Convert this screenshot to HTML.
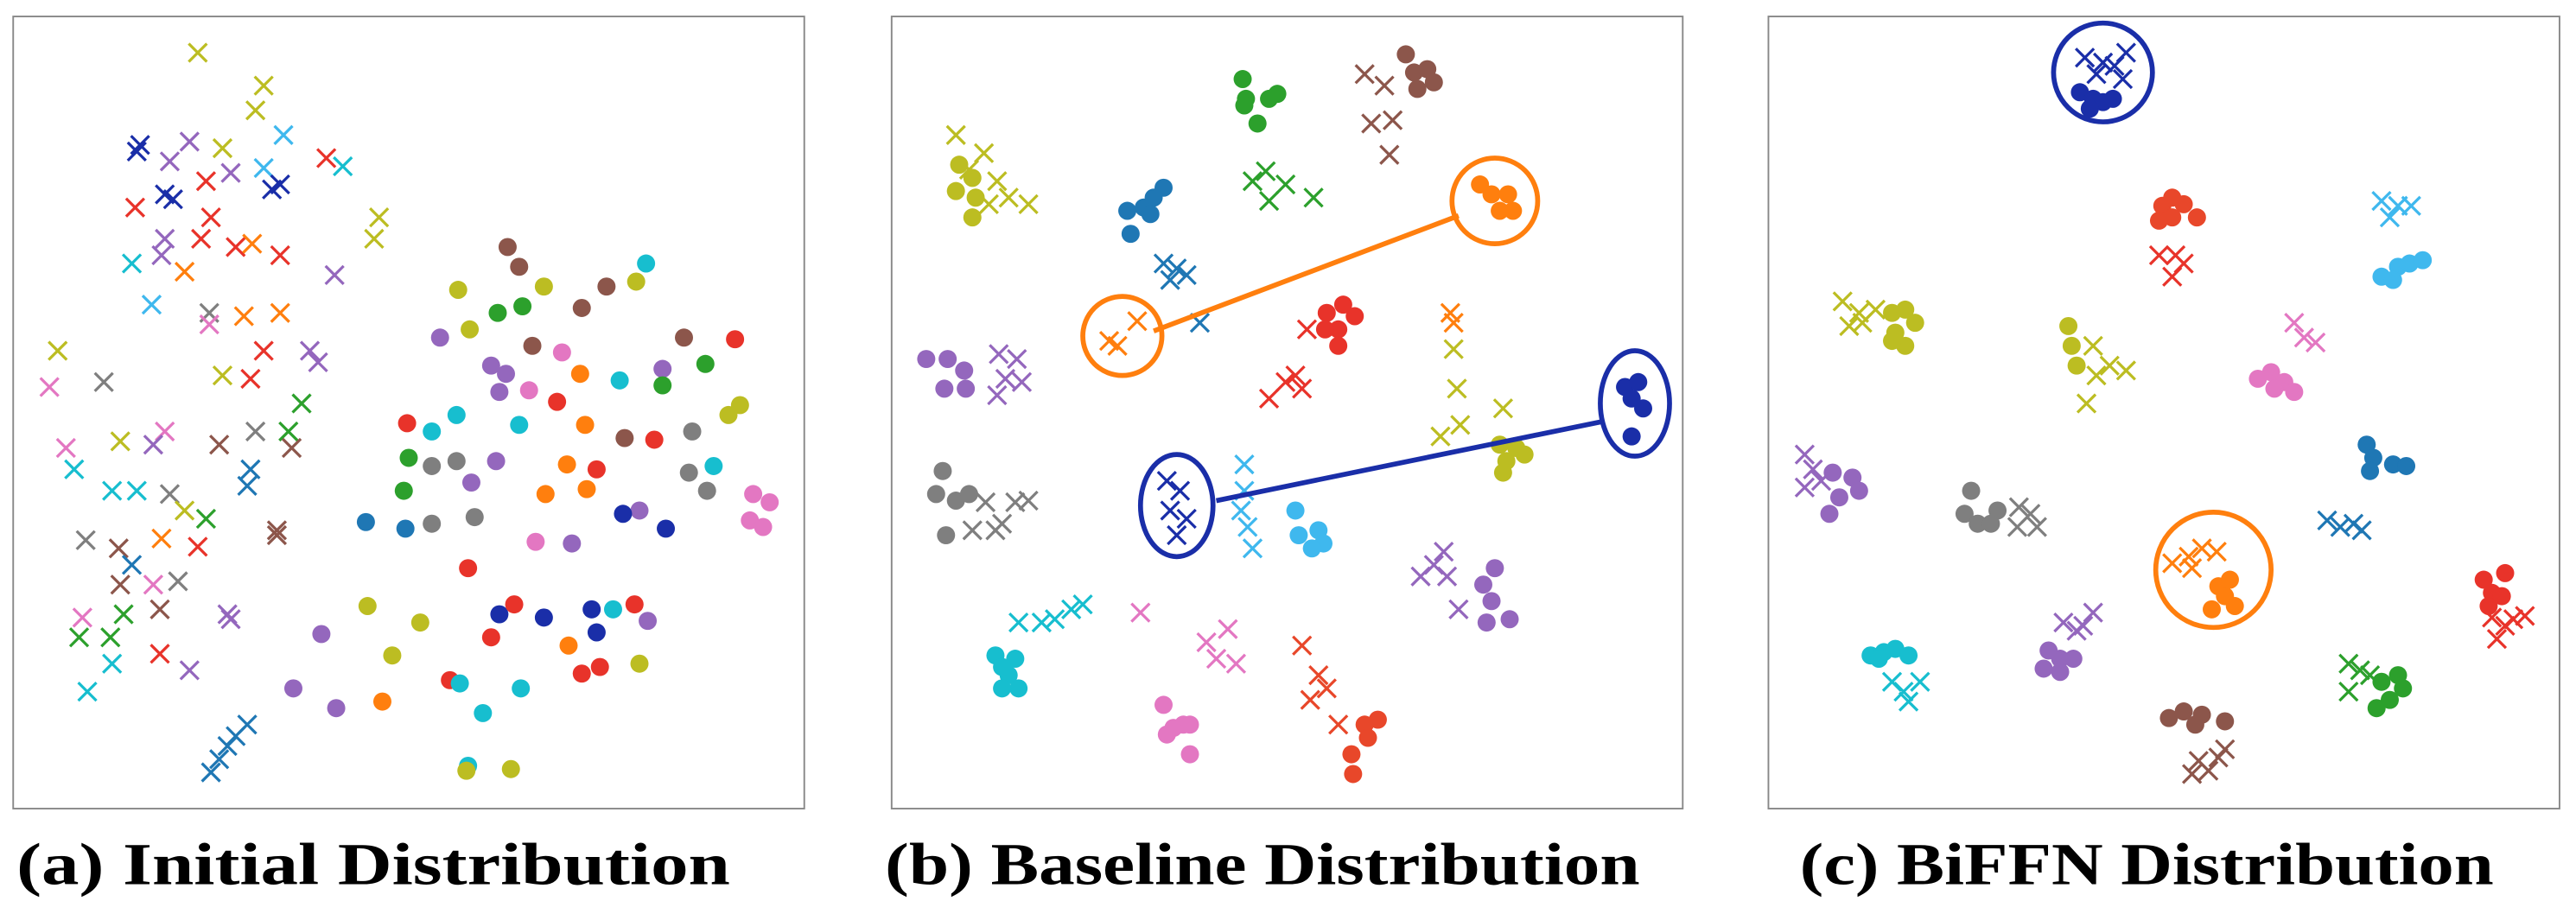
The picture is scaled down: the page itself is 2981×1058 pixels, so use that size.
<!DOCTYPE html>
<html><head><meta charset="utf-8"><style>
html,body{margin:0;padding:0;background:#fff;}
svg{display:block;}
.lbl{font-family:"Liberation Serif","Times New Roman",serif;font-weight:bold;font-size:36px;}
</style></head><body>
<svg id="s" width="2981" height="1058" viewBox="0 0 1563 555" preserveAspectRatio="none" xmlns="http://www.w3.org/2000/svg">
<rect x="0" y="0" width="1563" height="555" fill="#fff"/>
<rect x="8" y="10" width="480" height="481" fill="none" stroke="#888" stroke-width="1"/>
<rect x="541" y="10" width="480" height="481" fill="none" stroke="#888" stroke-width="1"/>
<rect x="1073" y="10" width="480" height="481" fill="none" stroke="#888" stroke-width="1"/>
<g id="pts"></g>
<g fill="none" stroke-width="3">
<line x1="700" y1="201" x2="885" y2="131" stroke="#ff7f0e"/>
<line x1="738" y1="304" x2="972" y2="256" stroke="#1a2ea8"/>
<circle cx="907" cy="122" r="26" stroke="#ff7f0e"/>
<circle cx="681" cy="204" r="24" stroke="#ff7f0e"/>
<ellipse cx="992" cy="245" rx="21" ry="32" stroke="#1a2ea8"/>
<ellipse cx="714" cy="307" rx="22" ry="31" stroke="#1a2ea8"/>
<circle cx="1276" cy="44" r="30" stroke="#1a2ea8"/>
<circle cx="1343" cy="346" r="35" stroke="#ff7f0e"/>
</g>
<g class="lbl" fill="#000">
<text x="10" y="537" textLength="433" lengthAdjust="spacingAndGlyphs">(a) Initial Distribution</text>
<text x="537" y="537" textLength="458" lengthAdjust="spacingAndGlyphs">(b) Baseline Distribution</text>
<text x="1092" y="537" textLength="421" lengthAdjust="spacingAndGlyphs">(c) BiFFN Distribution</text>
</g>
</svg>
<script>
var C={o:'#bcbd22',db:'#1a2ea8',p:'#9467bd',r:'#e8332a',lb:'#3fb8ee',c:'#17becf',g:'#2ca02c',br:'#8c564b',pk:'#e377c2',gy:'#7f7f7f',b:'#1f77b4',or:'#ff7f0e',ro:'#e8472a'};
var X=[[120,32,'o'],[160,52,'o'],[155,67,'o'],[85,88,'db'],[83,92,'db'],[115,86,'p'],[135,90,'o'],[172,82,'lb'],[198,96,'r'],[208,101,'c'],[103,98,'p'],[125,110,'r'],[100,118,'db'],[105,121,'db'],[140,105,'p'],[160,102,'lb'],[165,115,'db'],[170,112,'db'],[82,126,'r'],[128,132,'r'],[100,145,'p'],[122,145,'r'],[143,150,'r'],[153,148,'or'],[170,155,'r'],[80,160,'c'],[98,155,'p'],[112,165,'or'],[230,132,'o'],[227,145,'o'],[203,167,'p'],[92,185,'lb'],[127,190,'gy'],[148,192,'or'],[170,190,'or'],[127,197,'pk'],[35,213,'o'],[160,213,'r'],[188,213,'p'],[193,220,'p'],[30,235,'pk'],[63,232,'gy'],[135,228,'o'],[152,230,'r'],[183,245,'g'],[175,262,'g'],[100,262,'pk'],[40,272,'pk'],[45,285,'c'],[73,268,'o'],[93,270,'p'],[133,270,'br'],[155,262,'gy'],[177,272,'br'],[152,285,'b'],[150,295,'b'],[68,298,'c'],[83,298,'c'],[103,300,'gy'],[112,310,'o'],[125,315,'g'],[52,328,'gy'],[72,333,'br'],[98,327,'or'],[168,322,'br'],[168,325,'br'],[120,332,'r'],[80,343,'b'],[73,355,'br'],[93,355,'pk'],[108,353,'gy'],[50,375,'pk'],[75,373,'g'],[97,370,'br'],[138,373,'p'],[140,376,'p'],[48,387,'g'],[67,387,'g'],[68,403,'c'],[97,397,'r'],[115,407,'p'],[53,420,'c'],[150,440,'b'],[143,447,'b'],[138,453,'b'],[133,461,'b'],[128,469,'b'],
[580,82,'o'],[597,93,'o'],[588,103,'o'],[605,110,'o'],[612,120,'o'],[624,124,'o'],[600,124,'o'],[828,45,'br'],[840,52,'br'],[832,75,'br'],[845,73,'br'],[843,94,'br'],[760,110,'g'],[768,104,'g'],[780,112,'g'],[770,122,'g'],[797,120,'g'],[706,160,'b'],[714,163,'b'],[720,167,'b'],[710,170,'b'],[728,196,'b'],[673,207,'or'],[678,210,'or'],[690,195,'or'],[770,242,'r'],[780,232,'r'],[786,228,'r'],[790,236,'r'],[793,200,'r'],[880,190,'or'],[882,196,'or'],[882,212,'o'],[884,236,'o'],[886,258,'o'],[874,265,'o'],[912,248,'o'],[606,215,'p'],[617,218,'p'],[610,230,'p'],[620,232,'p'],[605,240,'p'],[598,305,'gy'],[616,305,'gy'],[624,304,'gy'],[608,318,'gy'],[590,322,'gy'],[604,322,'gy'],[755,282,'lb'],[755,298,'lb'],[753,310,'lb'],[757,320,'lb'],[760,333,'lb'],[708,292,'db'],[716,298,'db'],[710,310,'db'],[720,315,'db'],[714,325,'db'],[862,350,'p'],[870,343,'p'],[876,335,'p'],[878,350,'p'],[885,370,'p'],[618,378,'c'],[632,378,'c'],[640,376,'c'],[650,370,'c'],[657,367,'c'],[692,372,'pk'],[732,390,'pk'],[745,382,'pk'],[738,400,'pk'],[750,403,'pk'],[790,392,'ro'],[800,410,'ro'],[805,418,'ro'],[795,425,'ro'],[812,440,'ro'],
[1265,35,'db'],[1276,38,'db'],[1283,40,'db'],[1290,32,'db'],[1272,45,'db'],[1288,48,'db'],[1310,155,'r'],[1320,155,'r'],[1325,160,'r'],[1318,168,'r'],[1445,122,'lb'],[1455,125,'lb'],[1463,125,'lb'],[1450,132,'lb'],[1118,183,'o'],[1128,190,'o'],[1138,188,'o'],[1122,198,'o'],[1130,196,'o'],[1270,210,'o'],[1280,222,'o'],[1272,228,'o'],[1290,225,'o'],[1266,245,'o'],[1392,196,'pk'],[1398,205,'pk'],[1405,208,'pk'],[1095,276,'p'],[1100,285,'p'],[1105,292,'p'],[1095,296,'p'],[1225,308,'gy'],[1232,312,'gy'],[1236,320,'gy'],[1224,320,'gy'],[1412,316,'b'],[1420,320,'b'],[1428,318,'b'],[1433,322,'b'],[1318,342,'or'],[1328,338,'or'],[1336,333,'or'],[1345,335,'or'],[1330,345,'or'],[1512,375,'r'],[1520,380,'r'],[1525,376,'r'],[1532,374,'r'],[1515,388,'r'],[1252,378,'p'],[1260,383,'p'],[1270,372,'p'],[1264,380,'p'],[1148,414,'c'],[1155,420,'c'],[1165,414,'c'],[1158,426,'c'],[1425,403,'g'],[1432,407,'g'],[1425,420,'g'],[1438,410,'g'],[1334,462,'br'],[1340,468,'br'],[1346,460,'br'],[1350,455,'br'],[1330,470,'br']];
var D=[[308,150,'br'],[315,162,'br'],[392,160,'c'],[278,176,'o'],[330,174,'o'],[368,174,'br'],[386,171,'o'],[302,190,'g'],[317,186,'g'],[353,187,'br'],[267,205,'p'],[285,200,'o'],[323,210,'br'],[415,205,'br'],[446,206,'r'],[298,222,'p'],[307,227,'p'],[303,238,'p'],[341,214,'pk'],[352,227,'or'],[376,231,'c'],[402,224,'p'],[428,221,'g'],[402,234,'g'],[449,246,'o'],[442,252,'o'],[321,237,'pk'],[338,244,'r'],[247,257,'r'],[262,262,'c'],[277,252,'c'],[315,258,'c'],[355,258,'or'],[379,266,'br'],[397,267,'r'],[420,262,'gy'],[248,278,'g'],[262,283,'gy'],[277,280,'gy'],[301,280,'p'],[344,282,'or'],[362,285,'r'],[433,283,'c'],[418,287,'gy'],[245,298,'g'],[286,293,'p'],[331,300,'or'],[356,297,'or'],[429,298,'gy'],[457,300,'pk'],[467,305,'pk'],[455,316,'pk'],[463,320,'pk'],[222,317,'b'],[246,321,'b'],[262,318,'gy'],[288,314,'gy'],[388,310,'p'],[378,312,'db'],[404,321,'db'],[325,329,'pk'],[347,330,'p'],[284,345,'r'],[303,373,'db'],[312,367,'r'],[330,375,'db'],[359,370,'db'],[372,370,'c'],[385,367,'r'],[393,377,'p'],[223,368,'o'],[195,385,'p'],[255,378,'o'],[238,398,'o'],[362,384,'db'],[298,387,'r'],[345,392,'or'],[353,409,'r'],[364,405,'r'],[388,403,'o'],[178,418,'p'],[204,430,'p'],[232,426,'or'],[273,413,'r'],[279,415,'c'],[293,433,'c'],[316,418,'c'],[284,465,'c'],[283,468,'o'],[310,467,'o'],
[582,100,'o'],[590,108,'o'],[580,116,'o'],[592,120,'o'],[590,132,'o'],[684,128,'b'],[694,126,'b'],[700,120,'b'],[706,114,'b'],[686,142,'b'],[698,130,'b'],[754,48,'g'],[756,60,'g'],[770,60,'g'],[775,57,'g'],[763,75,'g'],[755,64,'g'],[853,33,'br'],[858,44,'br'],[866,42,'br'],[860,54,'br'],[870,50,'br'],[898,112,'or'],[905,118,'or'],[915,118,'or'],[910,128,'or'],[918,128,'or'],[805,190,'r'],[815,185,'r'],[822,192,'r'],[812,200,'r'],[804,200,'r'],[812,210,'r'],[910,270,'o'],[920,272,'o'],[914,280,'o'],[925,276,'o'],[912,287,'o'],[562,218,'p'],[575,218,'p'],[585,225,'p'],[573,236,'p'],[586,236,'p'],[572,286,'gy'],[568,300,'gy'],[580,304,'gy'],[588,300,'gy'],[574,325,'gy'],[786,310,'lb'],[800,322,'lb'],[788,325,'lb'],[803,330,'lb'],[796,333,'lb'],[986,235,'db'],[994,232,'db'],[990,242,'db'],[997,248,'db'],[990,265,'db'],[907,345,'p'],[900,355,'p'],[905,365,'p'],[902,378,'p'],[916,376,'p'],[604,398,'c'],[616,400,'c'],[612,410,'c'],[618,418,'c'],[608,418,'c'],[608,405,'c'],[706,428,'pk'],[718,440,'pk'],[712,442,'pk'],[722,440,'pk'],[708,446,'pk'],[722,458,'pk'],[828,440,'ro'],[836,437,'ro'],[830,448,'ro'],[820,458,'ro'],[821,470,'ro'],
[1262,56,'db'],[1270,60,'db'],[1276,62,'db'],[1282,60,'db'],[1268,66,'db'],[1312,125,'ro'],[1318,132,'ro'],[1325,124,'ro'],[1333,132,'ro'],[1310,134,'ro'],[1318,120,'ro'],[1445,168,'lb'],[1455,162,'lb'],[1462,160,'lb'],[1470,158,'lb'],[1452,170,'lb'],[1148,190,'o'],[1156,188,'o'],[1162,196,'o'],[1150,202,'o'],[1156,210,'o'],[1148,207,'o'],[1255,198,'o'],[1257,210,'o'],[1260,222,'o'],[1370,230,'pk'],[1378,226,'pk'],[1386,232,'pk'],[1392,238,'pk'],[1380,236,'pk'],[1436,270,'b'],[1440,278,'b'],[1438,286,'b'],[1452,282,'b'],[1460,283,'b'],[1112,287,'p'],[1124,290,'p'],[1128,298,'p'],[1116,302,'p'],[1110,312,'p'],[1196,298,'gy'],[1192,312,'gy'],[1200,318,'gy'],[1208,318,'gy'],[1212,310,'gy'],[1346,356,'or'],[1353,352,'or'],[1350,362,'or'],[1342,370,'or'],[1356,368,'or'],[1507,352,'r'],[1512,360,'r'],[1520,348,'r'],[1510,368,'r'],[1518,362,'r'],[1243,395,'p'],[1250,400,'p'],[1240,406,'p'],[1258,400,'p'],[1250,408,'p'],[1135,398,'c'],[1143,396,'c'],[1150,394,'c'],[1158,398,'c'],[1140,400,'c'],[1445,414,'g'],[1455,410,'g'],[1458,418,'g'],[1450,425,'g'],[1442,430,'g'],[1316,436,'br'],[1325,432,'br'],[1336,434,'br'],[1350,438,'br'],[1332,440,'br']];
var g=document.getElementById('pts'),h='';
D.forEach(function(d){h+='<circle cx="'+d[0]+'" cy="'+d[1]+'" r="5.5" fill="'+C[d[2]]+'"/>';});
X.forEach(function(d){var x=d[0],y=d[1];h+='<path d="M'+(x-5.5)+' '+(y-5.5)+'L'+(x+5.5)+' '+(y+5.5)+'M'+(x+5.5)+' '+(y-5.5)+'L'+(x-5.5)+' '+(y+5.5)+'" stroke="'+C[d[2]]+'" stroke-width="1.7" fill="none"/>';});
g.innerHTML=h;
</script>
</body></html>
